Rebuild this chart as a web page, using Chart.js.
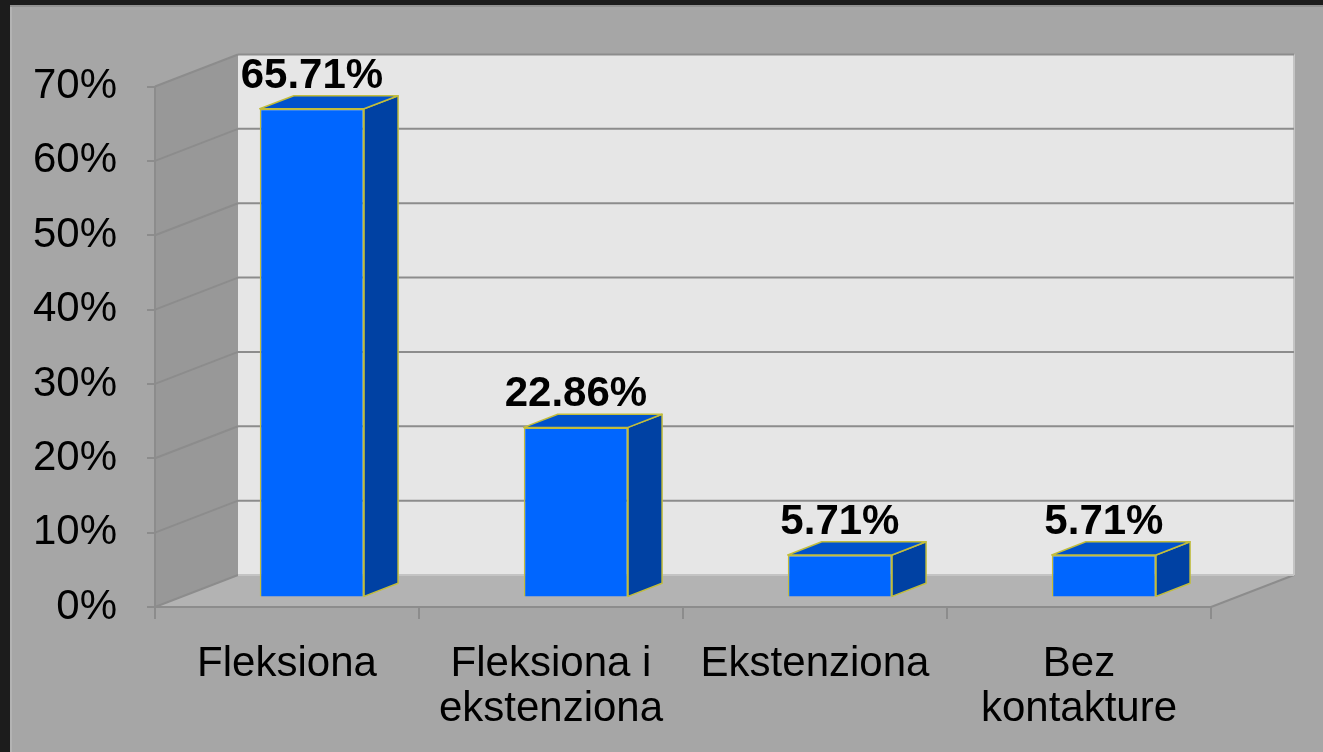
<!DOCTYPE html>
<html>
<head>
<meta charset="utf-8">
<script src="https://cdn.jsdelivr.net/npm/chart.js@4.4.1/dist/chart.umd.min.js"></script>
<style>
  html, body { margin: 0; padding: 0; background: #1c1c1c; }
  canvas { display: block; }
</style>
</head>
<body>
<canvas id="chart" width="1323" height="752"></canvas>
<script>
const categories = [['Fleksiona'], ['Fleksiona i', 'ekstenziona'], ['Ekstenziona'], ['Bez', 'kontakture']];
const shares = [65.71, 22.86, 5.71, 5.71];
const valueLabels = ['65.71%', '22.86%', '5.71%', '5.71%'];
const yMax = 70;
const yStep = 10;

// oblique 3D look: wall depth and where the bars sit inside it
const WALL_DX = 83, WALL_DY = -32;
const BAR_PLANE = 0.3;
const BAR_DEPTH = 0.41;
const FONT = "'Liberation Sans', Arial, sans-serif";

const panelAndWalls = {
    id: 'panelAndWalls',
    beforeDraw(chart) {
        const ctx = chart.ctx;
        const { left, right } = chart.chartArea;
        const ys = chart.scales.y;
        const y0 = ys.getPixelForValue(0);
        const yTop = ys.getPixelForValue(yMax);

        ctx.save();
        ctx.fillStyle = '#1c1c1c';
        ctx.fillRect(0, 0, chart.width, chart.height);
        ctx.fillStyle = '#a6a6a6';
        ctx.fillRect(10, 5, chart.width - 10, chart.height - 5);
        ctx.fillStyle = '#b3b3b3';
        ctx.fillRect(10, 5, 2, chart.height - 5);
        ctx.fillStyle = '#929292';
        ctx.fillRect(10, 5, chart.width - 10, 2);

        // back wall
        ctx.fillStyle = '#e6e6e6';
        ctx.fillRect(left + WALL_DX, yTop + WALL_DY, right - left, y0 - yTop);
        ctx.strokeStyle = '#c4c4c4';
        ctx.lineWidth = 2;
        ctx.beginPath();
        ctx.moveTo(right + WALL_DX, yTop + WALL_DY);
        ctx.lineTo(right + WALL_DX, y0 + WALL_DY);
        ctx.stroke();

        // side wall
        ctx.fillStyle = '#989898';
        ctx.beginPath();
        ctx.moveTo(left, y0);
        ctx.lineTo(left, yTop);
        ctx.lineTo(left + WALL_DX, yTop + WALL_DY);
        ctx.lineTo(left + WALL_DX, y0 + WALL_DY);
        ctx.closePath();
        ctx.fill();

        // floor
        ctx.fillStyle = '#b3b3b3';
        ctx.beginPath();
        ctx.moveTo(left, y0);
        ctx.lineTo(right, y0);
        ctx.lineTo(right + WALL_DX, y0 + WALL_DY);
        ctx.lineTo(left + WALL_DX, y0 + WALL_DY);
        ctx.closePath();
        ctx.fill();
        ctx.strokeStyle = '#8c8c8c';
        ctx.beginPath();
        ctx.moveTo(right, y0);
        ctx.lineTo(right + WALL_DX, y0 + WALL_DY);
        ctx.stroke();

        // gridlines on side and back walls
        for (let v = 0; v <= yMax; v += yStep) {
            const fy = ys.getPixelForValue(v);
            ctx.strokeStyle = '#8c8c8c';
            ctx.beginPath();
            ctx.moveTo(left, fy);
            ctx.lineTo(left + WALL_DX, fy + WALL_DY);
            ctx.stroke();
            ctx.strokeStyle = v === 0 ? '#c4c4c4' : '#8c8c8c';
            ctx.beginPath();
            ctx.moveTo(left + WALL_DX, fy + WALL_DY);
            ctx.lineTo(right + WALL_DX, fy + WALL_DY);
            ctx.stroke();
        }
        ctx.restore();
    }
};

const boxBars = {
    id: 'boxBars',
    beforeDatasetsDraw(chart) {
        chart.ctx.save();
        chart.ctx.translate(WALL_DX * BAR_PLANE, WALL_DY * BAR_PLANE);
    },
    afterDatasetsDraw(chart) {
        const ctx = chart.ctx;
        const bdx = WALL_DX * BAR_DEPTH, bdy = WALL_DY * BAR_DEPTH;
        const meta = chart.getDatasetMeta(0);
        meta.data.forEach(bar => {
            const { x, y, base, width } = bar.getProps(['x', 'y', 'base', 'width'], true);
            const l = x - width / 2, r = x + width / 2;
            ctx.lineWidth = 1.5;
            ctx.strokeStyle = '#c2bd3c';
            ctx.lineJoin = 'round';

            ctx.fillStyle = '#0041a3';
            ctx.beginPath();
            ctx.moveTo(r, y);
            ctx.lineTo(r + bdx, y + bdy);
            ctx.lineTo(r + bdx, base + bdy);
            ctx.lineTo(r, base);
            ctx.closePath();
            ctx.fill();
            ctx.stroke();

            ctx.fillStyle = '#0052cc';
            ctx.beginPath();
            ctx.moveTo(l, y);
            ctx.lineTo(l + bdx, y + bdy);
            ctx.lineTo(r + bdx, y + bdy);
            ctx.lineTo(r, y);
            ctx.closePath();
            ctx.fill();
            ctx.stroke();
        });
        ctx.restore();

        // value labels above each box
        ctx.save();
        ctx.font = 'bold 42px ' + FONT;
        ctx.fillStyle = '#000000';
        ctx.textAlign = 'center';
        ctx.textBaseline = 'alphabetic';
        meta.data.forEach((bar, i) => {
            const { x, y } = bar.getProps(['x', 'y'], true);
            ctx.fillText(valueLabels[i], x + WALL_DX * BAR_PLANE, y + WALL_DY * BAR_PLANE - 21);
        });
        ctx.restore();
    }
};

new Chart(document.getElementById('chart'), {
    type: 'bar',
    data: {
        labels: categories,
        datasets: [{
            data: shares,
            backgroundColor: '#0066ff',
            borderColor: '#c2bd3c',
            borderWidth: 1.5,
            categoryPercentage: 1,
            barPercentage: 0.395,
            clip: false
        }]
    },
    options: {
        responsive: false,
        animation: false,
        events: [],
        layout: { padding: { left: 0, top: 86.5, right: 112, bottom: 0 } },
        plugins: { legend: { display: false }, tooltip: { enabled: false } },
        scales: {
            x: {
                afterFit(scale) { scale.height = 145; },
                grid: { drawOnChartArea: false, tickLength: 12, color: '#8c8c8c', lineWidth: 2, offset: true },
                border: { display: true, color: '#8c8c8c', width: 2 },
                ticks: {
                    color: '#000000',
                    font: { family: FONT, size: 42, lineHeight: 1.07 },
                    padding: 23,
                    maxRotation: 0,
                    autoSkip: false
                }
            },
            y: {
                min: 0,
                max: yMax,
                afterFit(scale) { scale.width = 155; },
                grid: { drawOnChartArea: false, tickLength: 8, color: '#8c8c8c', lineWidth: 2 },
                border: { display: true, color: '#8c8c8c', width: 2 },
                ticks: {
                    stepSize: yStep,
                    color: '#000000',
                    font: { family: FONT, size: 42 },
                    padding: 30,
                    callback: v => v + '%'
                }
            }
        }
    },
    plugins: [panelAndWalls, boxBars]
});
</script>
</body>
</html>
